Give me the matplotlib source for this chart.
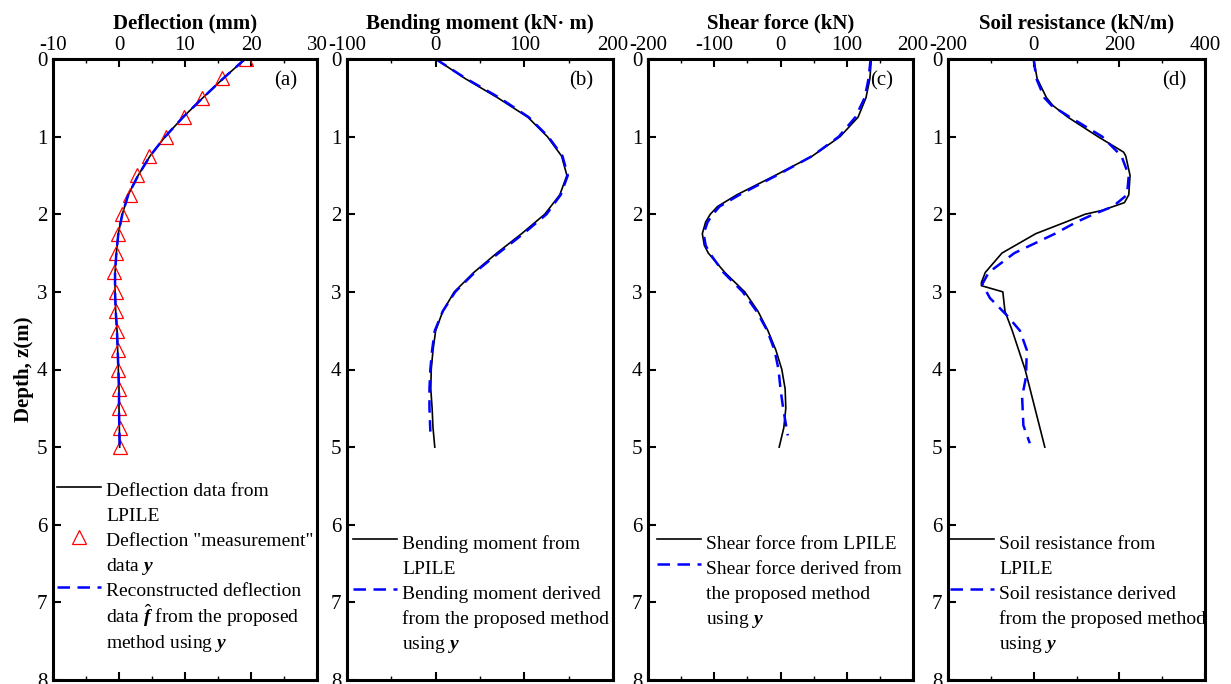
import numpy as np
import matplotlib

matplotlib.use("Agg")
import matplotlib.pyplot as plt
from matplotlib.lines import Line2D
from matplotlib.ticker import MultipleLocator

plt.rcParams["font.family"] = ["Liberation Serif", "DejaVu Serif"]
plt.rcParams["mathtext.fontset"] = "custom"
plt.rcParams["mathtext.rm"] = "Liberation Serif"
plt.rcParams["mathtext.it"] = "Liberation Serif:italic"
plt.rcParams["mathtext.bf"] = "Liberation Serif:bold:italic"
plt.rcParams["axes.unicode_minus"] = False

# ---- (a) deflection ----
defl_depth = [0.0, 0.25, 0.5, 0.75, 1.0, 1.25, 1.5, 1.75, 2.0, 2.25, 2.5,
              2.75, 3.0, 3.25, 3.5, 3.75, 4.0, 4.25, 4.5, 4.75, 5.0]
defl_lpile = [19.1, 15.8, 12.7, 9.7, 7.0, 4.7, 2.9, 1.4, 0.5, -0.1, -0.4,
              -0.6, -0.6, -0.5, -0.3, -0.2, -0.1, 0.0, 0.0, 0.05, 0.1]
defl_meas = [19.3, 15.6, 12.6, 9.9, 7.1, 4.5, 2.8, 1.6, 0.4, -0.2, -0.5,
             -0.7, -0.5, -0.4, -0.3, -0.2, -0.1, 0.0, 0.05, 0.1, 0.1]
defl_recon = defl_lpile

# ---- (b) bending moment ----
mom_depth = [0.0, 0.25, 0.5, 0.75, 1.0, 1.25, 1.5, 1.75, 2.0, 2.25, 2.5,
             2.75, 3.0, 3.25, 3.5, 3.75, 4.0, 4.25, 4.5, 4.75, 5.0]
mom_lpile = [0, 33, 70, 104, 126, 142, 148, 140, 123, 97, 69,
             43, 21, 8, 0, -3, -5, -5.5, -4, -3, -1]
mom_depth_rec = [0.0, 0.25, 0.5, 0.75, 1.0, 1.25, 1.5, 1.75, 2.0, 2.25, 2.5,
                 2.75, 3.0, 3.25, 3.5, 3.75, 4.0, 4.25, 4.5, 4.8]
mom_recon = [0, 34, 72, 105, 127, 143, 149, 141, 125, 99, 71,
             44, 22, 8, -1, -4, -6, -7, -7, -6]

# ---- (c) shear force ----
shear_depth = [0.0, 0.25, 0.5, 0.75, 1.0, 1.25, 1.5, 1.75, 1.9, 2.0, 2.1,
               2.25, 2.4, 2.5, 2.75, 3.0, 3.25, 3.5, 3.75, 4.0, 4.25,
               4.5, 4.75, 5.0]
shear_lpile = [137, 135, 129, 117, 90, 48, -8, -66, -95, -106, -113,
               -118, -115, -109, -84, -54, -34, -19, -7, 2, 7,
               8, 5, -2]
shear_depth_rec = [0.0, 0.25, 0.5, 0.75, 1.0, 1.25, 1.5, 1.75, 1.9, 2.0,
                   2.1, 2.25, 2.4, 2.5, 2.75, 3.0, 3.25, 3.5, 3.75, 4.0,
                   4.25, 4.5, 4.85]
shear_recon = [136, 133, 127, 113, 88, 48, -6, -62, -92, -102,
               -110, -116, -113, -107, -86, -57, -36, -20, -9, -3,
               0, 4, 11]

# ---- (d) soil resistance ----
soil_depth = [0.0, 0.25, 0.5, 0.6, 0.75, 1.0, 1.2, 1.25, 1.5, 1.75, 1.85,
              1.95, 2.0, 2.1, 2.25, 2.5, 2.75, 2.88, 2.92, 3.0, 3.25,
              3.5, 4.0, 4.5, 5.0]
soil_lpile = [0, 8, 30, 45, 80, 150, 210, 215, 225, 222, 212,
              160, 120, 75, 5, -74, -113, -122, -122, -72, -67,
              -50, -20, 3, 26]
soil_depth_rec = [0.0, 0.25, 0.5, 0.6, 0.75, 1.0, 1.25, 1.5, 1.75, 1.9,
                  2.0, 2.1, 2.25, 2.5, 2.75, 2.9, 3.08, 3.3, 3.5, 3.75,
                  4.1, 4.35, 4.72, 4.95]
soil_recon = [0, 6, 25, 42, 85, 160, 205, 222, 218, 185,
              140, 100, 50, -45, -105, -120, -102, -63, -32, -16,
              -18, -27, -24, -9]

panel_tags = ["(a)", "(b)", "(c)", "(d)"]
titles = ["Deflection (mm)", "Bending moment (kN\u00b7 m)", "Shear force (kN)",
          "Soil resistance (kN/m)"]
xlims = [(-10, 30), (-100, 200), (-200, 200), (-200, 400)]
xmajor = [10, 100, 100, 200]


def stacked_legend(ax, anchor_x, anchor_y):
    # one legend row per text line, handle sits on the first line of each entry
    handles, labels = [], []
    hs, ls = ax.get_legend_handles_labels()
    for h, text in zip(hs, ls):
        parts = text.split("\n")
        handles.append(h)
        labels.append(parts[0])
        for extra in parts[1:]:
            handles.append(Line2D([], [], linestyle="none"))
            labels.append(extra)
    ax.legend(handles, labels, loc="upper left",
              bbox_to_anchor=(anchor_x, anchor_y), frameon=False, fontsize=14,
              handlelength=2.25, handleheight=1.6, handletextpad=0.27,
              borderpad=0.0, borderaxespad=0.0, labelspacing=0.0)


fig = plt.figure(figsize=(12.31, 6.84), dpi=100)
lefts = [53, 347, 648, 948]
widths = [264, 266, 265, 257]
axes = []
for l, w in zip(lefts, widths):
    ax = fig.add_axes([l / 1231, 4 / 684, w / 1231, 621 / 684])
    axes.append(ax)

dash = (0, (5, 3))
for i, ax in enumerate(axes):
    ax.set_xlim(*xlims[i])
    ax.set_ylim(8, 0)
    ax.xaxis.set_major_locator(MultipleLocator(xmajor[i]))
    ax.xaxis.set_minor_locator(MultipleLocator(xmajor[i] / 2))
    ax.yaxis.set_major_locator(MultipleLocator(1))
    ax.xaxis.tick_top()
    ax.xaxis.set_label_position("top")
    ax.tick_params(axis="x", which="both", top=True, bottom=True, direction="in",
                   labelsize=15, pad=3)
    ax.tick_params(axis="y", which="both", left=True, right=False, direction="in",
                   labelsize=15, pad=4)
    ax.tick_params(which="major", length=6, width=1.5)
    ax.tick_params(which="minor", length=3, width=1.0)
    ax.set_xlabel(titles[i], fontsize=15, fontweight="bold", labelpad=5)
    for s in ax.spines.values():
        s.set_linewidth(2.2)
    ax.text(0.88, 0.965, panel_tags[i], transform=ax.transAxes, fontsize=15,
            ha="center", va="center")

axes[0].set_ylabel("Depth, z(m)", fontsize=15, fontweight="bold", labelpad=2)

# (a)
ax = axes[0]
ax.plot(defl_lpile, defl_depth, color="black", lw=1.2,
        label='Deflection data from\nLPILE')
ax.plot(defl_meas, defl_depth, linestyle="none", marker="^", markersize=10,
        markerfacecolor="none", markeredgecolor="red", markeredgewidth=0.9,
        label='Deflection "measurement"\ndata $\\mathbf{y}$')
ax.plot(defl_recon, defl_depth, color="blue", lw=1.8, linestyle=dash,
        label='Reconstructed deflection\ndata $\\hat{\\mathbf{f}}$ from the proposed\nmethod using $\\mathbf{y}$')
stacked_legend(ax, 0.015, 0.326)

# (b)
ax = axes[1]
ax.plot(mom_lpile, mom_depth, color="black", lw=1.2,
        label="Bending moment from\nLPILE")
ax.plot(mom_recon, mom_depth_rec, color="blue", lw=1.8, linestyle=dash,
        label="Bending moment derived\nfrom the proposed method\nusing $\\mathbf{y}$")
stacked_legend(ax, 0.023, 0.242)

# (c)
ax = axes[2]
ax.plot(shear_lpile, shear_depth, color="black", lw=1.2,
        label="Shear force from LPILE")
ax.plot(shear_recon, shear_depth_rec, color="blue", lw=1.8, linestyle=dash,
        label="Shear force derived from\nthe proposed method\nusing $\\mathbf{y}$")
stacked_legend(ax, 0.034, 0.242)

# (d)
ax = axes[3]
ax.plot(soil_lpile, soil_depth, color="black", lw=1.2,
        label="Soil resistance from\nLPILE")
ax.plot(soil_recon, soil_depth_rec, color="blue", lw=1.8, linestyle=dash,
        label="Soil resistance derived\nfrom the proposed method\nusing $\\mathbf{y}$")
stacked_legend(ax, 0.008, 0.242)

fig.savefig("out.png", dpi=100)
